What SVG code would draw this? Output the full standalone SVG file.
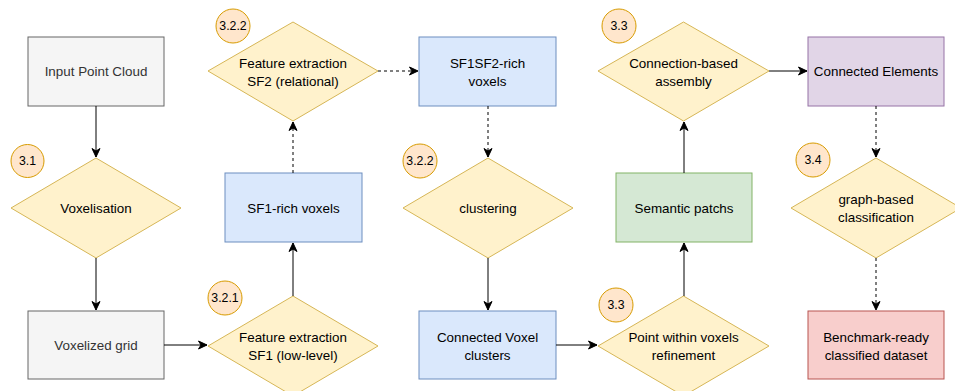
<svg xmlns="http://www.w3.org/2000/svg" width="955" height="391" viewBox="0 0 955 391">
<defs>
<marker id="arr" markerUnits="userSpaceOnUse" markerWidth="10" markerHeight="10" viewBox="0 0 10 10" refX="9.5" refY="5" orient="auto">
<path d="M1,1 L9.5,5 L1,9 L3.5,5 z" fill="#000" stroke="#000" stroke-width="1"/>
</marker>
</defs>
<style>
text{font-family:"Liberation Sans",Arial,Helvetica,sans-serif;font-size:13.4px;fill:#000;text-anchor:middle;dominant-baseline:central}
.gray rect{fill:#f5f5f5;stroke:#666666}
.gray text{fill:#333333}
.dia polygon{fill:#fff2cc;stroke:#d6b656}
.blue rect{fill:#dae8fc;stroke:#6c8ebf}
.green rect{fill:#d5e8d4;stroke:#82b366}
.purple rect{fill:#e1d5e7;stroke:#9673a6}
.red rect{fill:#f8cecc;stroke:#b85450}
.badge circle{fill:#ffe6cc;stroke:#d79b00}
.badge text{font-size:12.3px}
.c path{fill:none;stroke:#000;stroke-width:1;marker-end:url(#arr)}
.c path.d{stroke-dasharray:3 3}
</style>
<g id="input" class="gray"><rect x="28" y="37" width="136" height="69"/><text x="96" y="71.5">Input Point Cloud</text></g>
<g id="voxelisation" class="dia"><polygon points="96,158 181,208 96,258 11,208"/><text x="96" y="208">Voxelisation</text></g>
<g id="voxgrid" class="gray"><rect x="28" y="311" width="136" height="68"/><text x="96" y="345">Voxelized grid</text></g>
<g id="fe1" class="dia"><polygon points="293,296 378,346 293,396 208,346"/><text x="293" y="337">Feature extraction</text><text x="293" y="355">SF1 (low-level)</text></g>
<g id="sf1rich" class="blue"><rect x="225" y="173" width="137" height="69"/><text x="293.5" y="208">SF1-rich voxels</text></g>
<g id="fe2" class="dia"><polygon points="293,22 378,71 293,121 208,71"/><text x="293" y="63">Feature extraction</text><text x="293" y="81">SF2 (relational)</text></g>
<g id="sf12rich" class="blue"><rect x="419" y="37" width="137" height="69"/><text x="487.5" y="63">SF1SF2-rich</text><text x="487.5" y="81">voxels</text></g>
<g id="clustering" class="dia"><polygon points="488,158 573,208 488,258 403,208"/><text x="488" y="208">clustering</text></g>
<g id="cvc" class="blue"><rect x="419" y="311" width="137" height="68"/><text x="487.5" y="337">Connected Voxel</text><text x="487.5" y="355">clusters</text></g>
<g id="pwv" class="dia"><polygon points="683.5,296 769,346 683.5,396 598,346"/><text x="683.5" y="337">Point within voxels</text><text x="683.5" y="355">refinement</text></g>
<g id="semantic" class="green"><rect x="616" y="173" width="136" height="69"/><text x="684" y="208">Semantic patchs</text></g>
<g id="cba" class="dia"><polygon points="683.5,22 769,71 683.5,121 598,71"/><text x="683.5" y="63">Connection-based</text><text x="683.5" y="81">assembly</text></g>
<g id="connel" class="purple"><rect x="808" y="37" width="136" height="69"/><text x="876" y="71.5">Connected Elements</text></g>
<g id="gbc" class="dia"><polygon points="876,158 961,208 876,258 791,208"/><text x="876" y="199">graph-based</text><text x="876" y="217">classification</text></g>
<g id="bench" class="red"><rect x="808" y="311" width="136" height="68"/><text x="876" y="337">Benchmark-ready</text><text x="876" y="355">classified dataset</text></g>
<g id="b31" class="badge"><circle cx="27.5" cy="161" r="16.5"/><text x="27.5" y="161">3.1</text></g>
<g id="b322a" class="badge"><circle cx="233" cy="26" r="17"/><text x="233" y="26">3.2.2</text></g>
<g id="b321" class="badge"><circle cx="225" cy="298" r="17"/><text x="225" y="298">3.2.1</text></g>
<g id="b322b" class="badge"><circle cx="420" cy="161" r="17"/><text x="420" y="161">3.2.2</text></g>
<g id="b33a" class="badge"><circle cx="619" cy="26" r="17"/><text x="619" y="26">3.3</text></g>
<g id="b33b" class="badge"><circle cx="616" cy="305" r="17"/><text x="616" y="305">3.3</text></g>
<g id="b34" class="badge"><circle cx="813" cy="160" r="17"/><text x="813" y="160">3.4</text></g>
<g id="connectors" class="c">
<path d="M96,106 V157"/>
<path d="M96,258 V310"/>
<path d="M164,345 H207"/>
<path d="M293,296 V243"/>
<path class="d" d="M293,173 V122"/>
<path class="d" d="M378,71 H418"/>
<path class="d" d="M488,106 V157"/>
<path d="M488,258 V310"/>
<path d="M556,345 H597"/>
<path d="M684,296 V243"/>
<path d="M684,173 V122"/>
<path d="M769,71 H807"/>
<path class="d" d="M876,106 V157"/>
<path class="d" d="M876,258 V310"/>
</g>
</svg>
